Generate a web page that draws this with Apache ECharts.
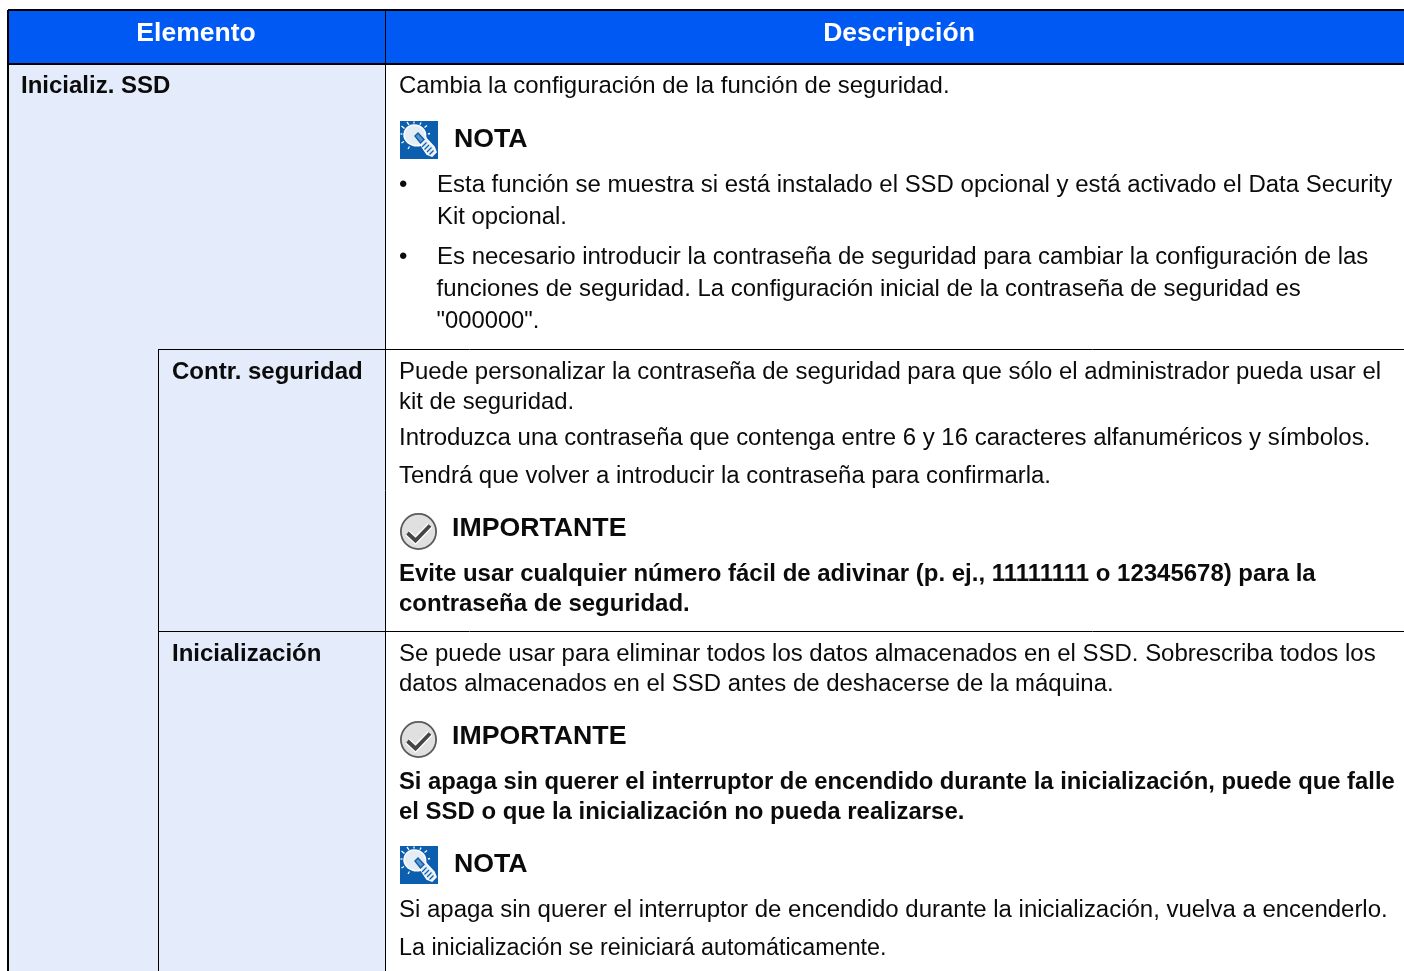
<!DOCTYPE html>
<html><head><meta charset="utf-8">
<style>html,body{margin:0;padding:0;background:#fff}#c{width:1404px;height:971px}</style>
<script src="https://cdn.jsdelivr.net/npm/echarts@6/dist/echarts.min.js"></script>
</head><body><div id="c"></div>
<script>
const headers = ['Elemento', 'Descripción'];
const items = ['Inicializ. SSD', 'Contr. seguridad', 'Inicialización'];
const notes = ['NOTA', 'IMPORTANTE'];
const body = [
 'Cambia la configuración de la función de seguridad.',
 'Esta función se muestra si está instalado el SSD opcional y está activado el Data Security',
 'Kit opcional.',
 'Es necesario introducir la contraseña de seguridad para cambiar la configuración de las',
 'funciones de seguridad. La configuración inicial de la contraseña de seguridad es',
 '"000000".',
 'Puede personalizar la contraseña de seguridad para que sólo el administrador pueda usar el',
 'kit de seguridad.',
 'Introduzca una contraseña que contenga entre 6 y 16 caracteres alfanuméricos y símbolos.',
 'Tendrá que volver a introducir la contraseña para confirmarla.',
 'Se puede usar para eliminar todos los datos almacenados en el SSD. Sobrescriba todos los',
 'datos almacenados en el SSD antes de deshacerse de la máquina.',
 'Si apaga sin querer el interruptor de encendido durante la inicialización, vuelva a encenderlo.',
 'La inicialización se reiniciará automáticamente.'
];
const warnings = [
 'Evite usar cualquier número fácil de adivinar (p. ej., 11111111 o 12345678) para la',
 'contraseña de seguridad.',
 'Si apaga sin querer el interruptor de encendido durante la inicialización, puede que falle',
 'el SSD o que la inicialización no pueda realizarse.'
];
const bullet = '•';

/* layout, kept apart from the content */
const FONT = '"Liberation Sans", Arial, sans-serif';
const fills = [[8,10,1404,64,'#0059F3'],[8,64,385,971,'#E4ECFB']];
const rules = [[8,10,1404,10,2],[8,64,1404,64,2],[8,10,8,971,2],[385.5,10,385.5,971,1],[158.5,349,158.5,971,1],[158,349.5,1404,349.5,1],[158,631.5,1404,631.5,1]];
const bodyPos = [[399,86],[437,185],[437,217],[437,257],[436.5,289],[436.5,321],[399,372],[399,402],[399,438],[399,476],[399,654],[399,684],[399,910],[399,949]];
const bodySizes = [23.93,23.97,23.85,23.97,23.96,23.8,23.95,23.86,23.97,23.95,23.97,23.95,23.98,23.33];
const warnPos = [[399,574],[399,604],[399,782],[399,812]];
const warnSizes = [23.97,24,23.8,23.95];
const headPos = [[196,34],[899,34]];
const itemPos = [[21,86],[172,372],[172,654]];
const notePos = [[454,140,0],[452,529,1],[452,737,1],[454,865,0]];
const bulletPos = [[399,185],[399,257]];
const bulbIcons = [[400,121],[400,846]];
const checkIcons = [[400,513],[400,721]];

const idx = a => a.map((p,i)=>[p[0],p[1],i]);
function textSeries(pos, fn){
  return {type:'custom',coordinateSystem:'cartesian2d',silent:true,encode:{x:0,y:1},data:idx(pos),clip:false,z:4,
    renderItem(params,api){
      const p=api.coord([api.value(0),api.value(1)]);
      const s=fn(api.value(2));
      return {type:'text',x:p[0],y:p[1],style:Object.assign({fontFamily:FONT,fill:'#0b0b0b',align:'left',verticalAlign:'middle'},s)};
    }};
}
function iconSeries(pos, build){
  return {type:'custom',coordinateSystem:'cartesian2d',silent:true,encode:{x:0,y:1},data:idx(pos),clip:false,z:4,
    renderItem(params,api){
      const p=api.coord([api.value(0),api.value(1)]);
      return {type:'group',x:p[0],y:p[1],children:build()};
    }};
}
const rays=[[1.5,5,4.5,7.5],[7,1,9,3.8],[14,0.5,14,2.5],[21,1.5,20,3.8],[27,4.5,24.5,6.5],[0.5,13,2.5,13],[1.5,22,4,20.5],[8,28,9.5,25.5],[28,13,30,12.5]];
function bulb(){
  const W='#ffffff', B='#0B5FAE';
  const kids=[{type:'rect',shape:{x:0,y:0,width:38,height:38},style:{fill:B}},
   {type:'path',shape:{pathData:'M21 24 C16 26 8 24 5 18 C2 11 7 4 14 4 C21 4 26 9 25.5 15 C25.5 16.5 26 17.5 27 18.5 L34 26 L36 31 L32 35 L27 33 L21 24 Z'},style:{fill:'#E4EDF6',stroke:W,lineWidth:1.6}},
   {type:'path',shape:{pathData:'M15 15 L18 12 L24 18.5 L20.5 22 Z'},style:{fill:'#5E93C8',stroke:B,lineWidth:1.4}},
   {type:'path',shape:{pathData:'M26.5 21.5 L22 26 M29 24 L24.5 28.5 M31.5 26.5 L27 31 M33.5 29.5 L29.5 33.5'},style:{fill:'none',stroke:B,lineWidth:1.2}}];
  rays.forEach(r=>kids.push({type:'line',shape:{x1:r[0],y1:r[1],x2:r[2],y2:r[3]},style:{stroke:W,lineWidth:1.3}}));
  return kids;
}
function check(){
  return [{type:'circle',shape:{cx:18.5,cy:18.5,r:17.6},style:{fill:'#E0E0E0',stroke:'#5a5a5a',lineWidth:1.8}},
   {type:'path',shape:{pathData:'M7.5 20 L15.5 27.5 L30 12.5'},style:{fill:'none',stroke:'#ffffff',lineWidth:6.5}},
   {type:'path',shape:{pathData:'M7.5 20 L15.5 27.5 L30 12.5'},style:{fill:'none',stroke:'#454545',lineWidth:3.8}}];
}

const chart=echarts.init(document.getElementById('c'),null,{renderer:'canvas'});
chart.setOption({
  animation:false,
  grid:{left:0,right:0,top:0,bottom:0},
  xAxis:{type:'value',min:0,max:1404,show:false},
  yAxis:{type:'value',min:0,max:971,inverse:true,show:false},
  series:[
   {type:'custom',coordinateSystem:'cartesian2d',silent:true,encode:{x:0,y:1},clip:false,data:fills.map(f=>f.slice(0,4)),
    renderItem(params,api){
      const a=api.coord([api.value(0),api.value(1)]),b=api.coord([api.value(2),api.value(3)]);
      return {type:'rect',shape:{x:a[0],y:a[1],width:b[0]-a[0],height:b[1]-a[1]},style:{fill:fills[params.dataIndex][4]}};
    }},
   {type:'custom',coordinateSystem:'cartesian2d',silent:true,encode:{x:0,y:1},clip:false,data:rules.map(f=>f.slice(0,4)),z:3,
    renderItem(params,api){
      const a=api.coord([api.value(0),api.value(1)]),b=api.coord([api.value(2),api.value(3)]);
      return {type:'line',shape:{x1:a[0],y1:a[1],x2:b[0],y2:b[1]},style:{stroke:'#000',lineWidth:rules[params.dataIndex][4]}};
    }},
   textSeries(headPos,i=>({text:headers[i],fontSize:26.5,fontWeight:'bold',fill:'#fff',align:'center'})),
   textSeries(itemPos,i=>({text:items[i],fontSize:24,fontWeight:'bold'})),
   textSeries(bodyPos,i=>({text:body[i],fontSize:bodySizes[i]})),
   textSeries(warnPos,i=>({text:warnings[i],fontSize:warnSizes[i],fontWeight:'bold'})),
   textSeries(notePos,i=>({text:notes[notePos[i][2]],fontSize:26.7,fontWeight:'bold'})),
   textSeries(bulletPos,i=>({text:bullet,fontSize:24})),
   iconSeries(bulbIcons,bulb),
   iconSeries(checkIcons,check)
  ]
});
</script></body></html>
